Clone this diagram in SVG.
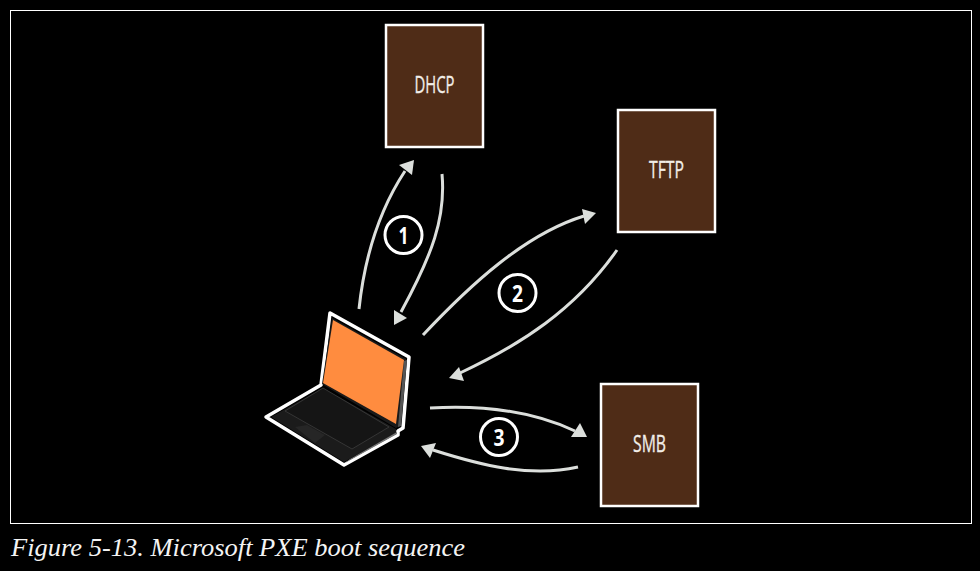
<svg xmlns="http://www.w3.org/2000/svg" width="980" height="571" viewBox="0 0 980 571">
<style>
.box{fill:#4f2c17;stroke:#fff;stroke-width:2.500}
.lbl{font-family:"Open Sans","Liberation Sans",sans-serif;font-size:23px;fill:#f2eee8;stroke:#f2eee8;stroke-width:0.300;text-anchor:middle}
.num{font-family:"Open Sans","Liberation Sans",sans-serif;font-size:24px;font-weight:700;fill:#fff;text-anchor:middle}
.ring{fill:none;stroke:#fff;stroke-width:3}
.arc{fill:none;stroke:#dcdfdc;stroke-width:3}
.head{fill:#dcdfdc}
</style>
<rect width="980" height="571" fill="#000"/>
<rect x="10.500" y="10.500" width="961" height="513" fill="none" stroke="#fff" stroke-width="1"/>
<g id="dhcp"><rect class="box" x="386" y="25" width="97" height="122"/><text class="lbl" x="434.500" y="93" textLength="40" lengthAdjust="spacingAndGlyphs">DHCP</text></g>
<g id="tftp"><rect class="box" x="618" y="110" width="97" height="122"/><text class="lbl" x="666.500" y="178" textLength="35" lengthAdjust="spacingAndGlyphs">TFTP</text></g>
<g id="smb"><rect class="box" x="601" y="384" width="97" height="122"/><text class="lbl" x="649.500" y="452" textLength="33" lengthAdjust="spacingAndGlyphs">SMB</text></g>
<g id="laptop">
<path d="M330 313 L409 357 L403 428 L398 431 L398 435 L344 465 L266 417 L321 385 Z" fill="#000" stroke="#fff" stroke-width="3.500" stroke-linejoin="round"/>
<path d="M332 318 L406 359 L400 426 L396 428 L322 384 Z" fill="#1a1a1a"/>
<path d="M404 361 L407 360 L401 426 L398 427 Z" fill="#555"/>
<path d="M333 320 L404 360 L396 424 L323 383 Z" fill="#ff8c3f"/>
<path d="M323 388 L396 429 L396 433 L344 462 L271 417 Z" fill="#1b1b1b"/>
<path d="M350 459 L397 432 L397 434 L345 463 Z" fill="#777"/>
<path d="M285 411 L323 388 L389 427 L352 449 Z" fill="#151515" stroke="#3c3c3c" stroke-width="0.800"/>
<path d="M295 427 L307 425 L325 435 L315 443 Z" fill="#262626"/>
</g>
<g id="connectors">
<path class="arc" d="M359 309 C364 262 378 212 405 171"/>
<path class="head" d="M414 160 L412 175 L399 165 Z"/>
<path class="arc" d="M442 174 C446 218 432 255 401 312"/>
<path class="head" d="M394 325 L394 310 L407 318 Z"/>
<path class="arc" d="M423 335 C470 285 525 234 584 216"/>
<path class="head" d="M596 213 L582 209 L585 224 Z"/>
<path class="arc" d="M617 250 C575 310 520 345 460 373"/>
<path class="head" d="M449 378 L459 367 L464 381 Z"/>
<path class="arc" d="M430 408 C480 405 530 410 575 431"/>
<path class="head" d="M587 437 L580 423 L571 437 Z"/>
<path class="arc" d="M578 467 C530 478 480 465 433 450"/>
<path class="head" d="M421 446 L436 443 L430 458 Z"/>
</g>
<g id="step1"><circle class="ring" cx="403.500" cy="235" r="18.500"/><text class="num" x="403.500" y="244" textLength="10" lengthAdjust="spacingAndGlyphs">1</text></g>
<g id="step2"><circle class="ring" cx="517.500" cy="293" r="18.500"/><text class="num" x="517.500" y="302" textLength="11" lengthAdjust="spacingAndGlyphs">2</text></g>
<g id="step3"><circle class="ring" cx="499" cy="437" r="18.500"/><text class="num" x="499" y="446" textLength="11" lengthAdjust="spacingAndGlyphs">3</text></g>
<text id="caption" x="11" y="556" font-family="Liberation Serif,serif" font-style="italic" font-size="25px" fill="#f4f4f4" textLength="454" lengthAdjust="spacingAndGlyphs">Figure 5-13. Microsoft PXE boot sequence</text>
</svg>
